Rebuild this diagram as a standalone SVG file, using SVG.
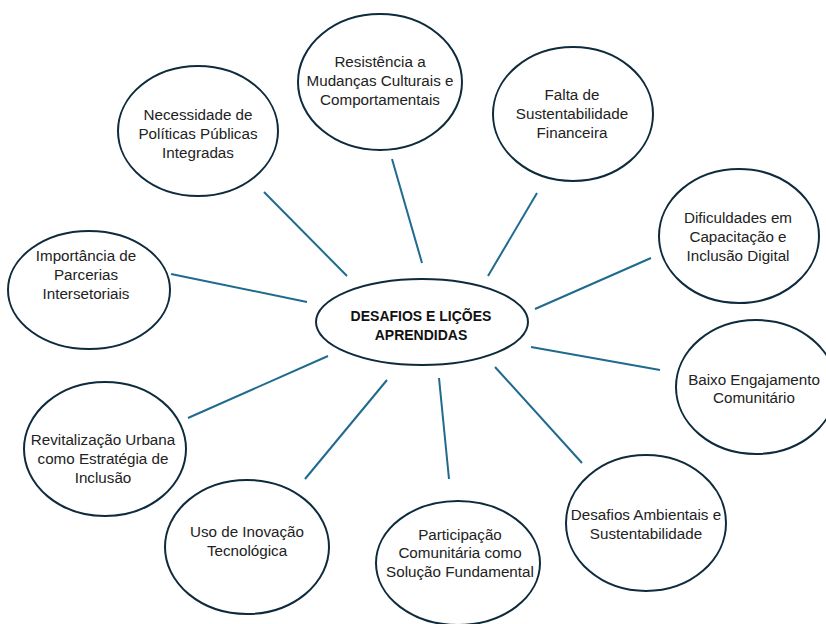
<svg xmlns="http://www.w3.org/2000/svg" width="826" height="624" viewBox="0 0 826 624">
<style>
.n{fill:#fff;stroke:#0e2b3d;stroke-width:2}
.t{font-family:"Liberation Sans",Arial,sans-serif;font-size:15.2px;fill:#222;text-anchor:middle}
.b{font-family:"Liberation Sans",Arial,sans-serif;font-size:14px;font-weight:bold;fill:#111;text-anchor:middle}
.c line{stroke:#1f6a8e;stroke-width:2}
</style>
<rect width="826" height="624" fill="#fff"/>
<g class="c" id="connectors">
<line x1="264" y1="192" x2="347" y2="276"/>
<line x1="392" y1="159" x2="422" y2="263"/>
<line x1="537" y1="193" x2="488" y2="276"/>
<line x1="651" y1="258" x2="535" y2="309"/>
<line x1="531" y1="347" x2="660" y2="370"/>
<line x1="495" y1="367" x2="582" y2="463"/>
<line x1="439" y1="378" x2="449" y2="479"/>
<line x1="387" y1="380" x2="305" y2="479"/>
<line x1="328" y1="356" x2="188" y2="418"/>
<line x1="171" y1="274" x2="307" y2="302"/>
</g>
<g id="center"><ellipse class="n" cx="422" cy="322" rx="106" ry="43"/>
<text class="b" x="421" y="321">DESAFIOS E LIÇÕES</text><text class="b" x="421" y="340">APRENDIDAS</text></g>
<g id="resistencia"><ellipse class="n" cx="380" cy="82" rx="82" ry="68"/>
<text class="t" x="380" y="67">Resistência a</text><text class="t" x="380" y="86">Mudanças Culturais e</text><text class="t" x="380" y="105">Comportamentais</text></g>
<g id="necessidade"><ellipse class="n" cx="198" cy="131" rx="80" ry="65"/>
<text class="t" x="198" y="120">Necessidade de</text><text class="t" x="198" y="139">Políticas Públicas</text><text class="t" x="198" y="158">Integradas</text></g>
<g id="falta"><ellipse class="n" cx="573" cy="114" rx="80" ry="67"/>
<text class="t" x="572" y="100">Falta de</text><text class="t" x="572" y="119">Sustentabilidade</text><text class="t" x="572" y="138">Financeira</text></g>
<g id="dificuldades"><ellipse class="n" cx="739" cy="236" rx="80" ry="67"/>
<text class="t" x="738" y="223">Dificuldades em</text><text class="t" x="738" y="242">Capacitação e</text><text class="t" x="738" y="261">Inclusão Digital</text></g>
<g id="importancia"><ellipse class="n" cx="89" cy="290" rx="81" ry="59"/>
<text class="t" x="86" y="261">Importância de</text><text class="t" x="86" y="280">Parcerias</text><text class="t" x="86" y="299">Intersetoriais</text></g>
<g id="baixo"><ellipse class="n" cx="756" cy="387" rx="80" ry="67"/>
<text class="t" x="754" y="385">Baixo Engajamento</text><text class="t" x="754" y="403">Comunitário</text></g>
<g id="revitalizacao"><ellipse class="n" cx="105" cy="449" rx="81" ry="67"/>
<text class="t" x="103" y="445">Revitalização Urbana</text><text class="t" x="103" y="464">como Estratégia de</text><text class="t" x="103" y="483">Inclusão</text></g>
<g id="uso"><ellipse class="n" cx="247" cy="547" rx="82" ry="67"/>
<text class="t" x="247" y="537">Uso de Inovação</text><text class="t" x="247" y="556">Tecnológica</text></g>
<g id="participacao"><ellipse class="n" cx="458" cy="563" rx="82" ry="62"/>
<text class="t" x="460" y="540">Participação</text><text class="t" x="460" y="558">Comunitária como</text><text class="t" x="460" y="577">Solução Fundamental</text></g>
<g id="ambientais"><ellipse class="n" cx="646" cy="523" rx="80" ry="68"/>
<text class="t" x="646" y="520">Desafios Ambientais e</text><text class="t" x="646" y="539">Sustentabilidade</text></g>
</svg>
